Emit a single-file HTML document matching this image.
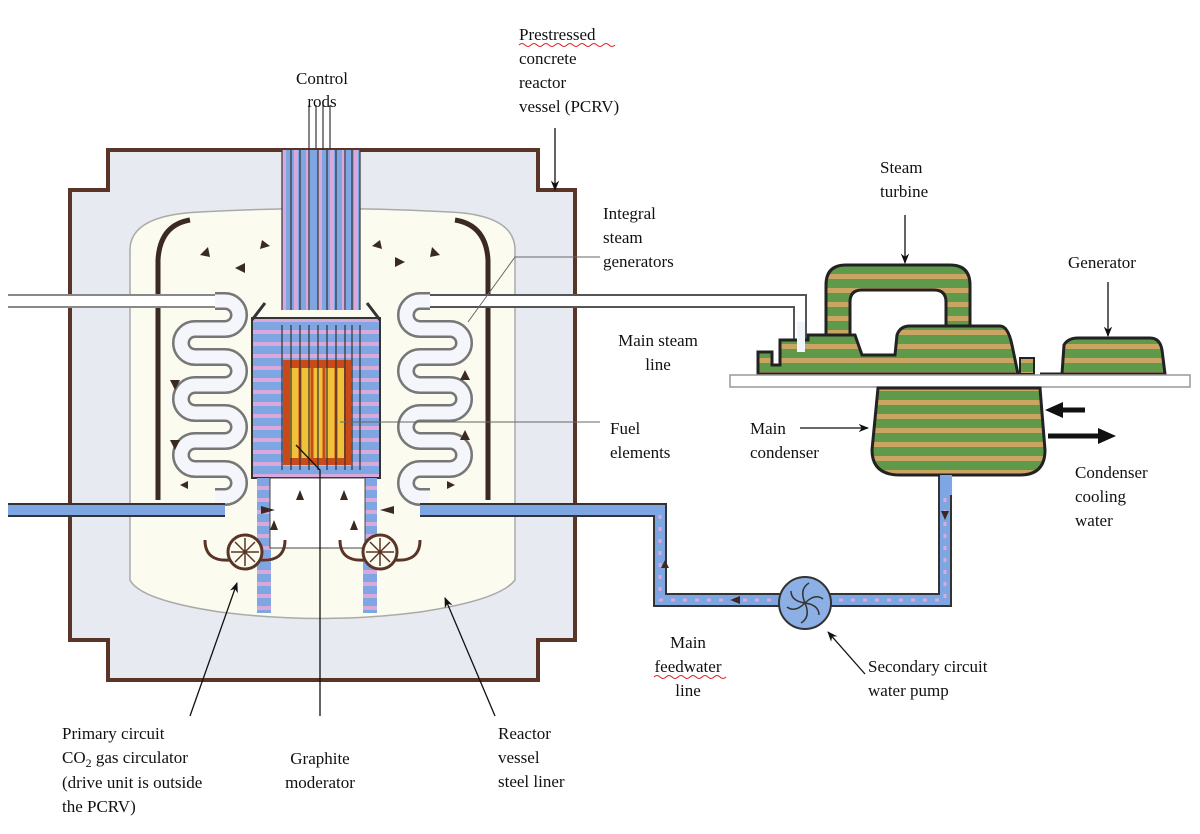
<!DOCTYPE html>
<html><head><meta charset="utf-8"><style>
html,body{margin:0;padding:0;background:#fff;}
svg{display:block}
text{font-family:"Liberation Serif",serif;font-size:17px;fill:#111}
</style></head><body>
<svg width="1200" height="834" viewBox="0 0 1200 834" xmlns="http://www.w3.org/2000/svg">
<defs>
<pattern id="gt" width="20" height="14" patternUnits="userSpaceOnUse"><rect width="20" height="14" fill="#5f9a4a"/><rect y="8" width="20" height="5" fill="#c9a462"/></pattern>
<pattern id="bp" width="20" height="12" patternUnits="userSpaceOnUse"><rect width="20" height="12" fill="#7ea6e2"/><rect y="6" width="20" height="4" fill="#d9a9dc"/></pattern>
<pattern id="bpv" width="12" height="20" patternUnits="userSpaceOnUse"><rect width="12" height="20" fill="#7ea6e2"/><rect x="6" width="4" height="20" fill="#d9a9dc"/></pattern>
<marker id="ah" viewBox="0 0 10 10" refX="9" refY="5" markerWidth="8" markerHeight="8" orient="auto"><path d="M0,1 L10,5 L0,9 L3,5z" fill="#111"/></marker>
</defs>

<path d="M108,150 H538 V190 H575 V640 H538 V680 H108 V640 H70 V190 H108 Z" fill="#e8eaf2" stroke="#5a3426" stroke-width="4"/>
<path d="M130,250 Q130,215 200,212 Q322,205 450,212 Q515,215 515,250 V580 Q500,600 420,612 Q322,625 220,612 Q140,600 130,580 Z" fill="#fbfbef" stroke="#aaa" stroke-width="1.5"/>

<rect x="252" y="318" width="128" height="160" fill="url(#bp)" stroke="#333" stroke-width="2"/>
<rect x="257" y="478" width="14" height="135" fill="url(#bp)"/>
<rect x="363" y="478" width="14" height="135" fill="url(#bp)"/>
<rect x="270" y="478" width="95" height="70" fill="#fff" stroke="#444" stroke-width="1"/>
<rect x="283" y="360" width="68" height="105" fill="#c84a1a"/>
<rect x="290" y="368" width="54" height="90" fill="#f0c23a"/>
<g stroke="#c84a1a" stroke-width="3"><line x1="300" y1="360" x2="300" y2="465"/><line x1="312" y1="360" x2="312" y2="465"/><line x1="324" y1="360" x2="324" y2="465"/><line x1="336" y1="360" x2="336" y2="465"/></g>
<rect x="282" y="150" width="78" height="160" fill="url(#bpv)"/>
<g stroke="#333" stroke-width="1.2" fill="none">
<path d="M282,150 V310 M291,150 V310 M300,150 V310 M309,150 V310 M318,150 V310 M327,150 V310 M336,150 V310 M345,150 V310 M352,150 V310 M360,150 V310"/>
<path d="M282,325 V470 M291,325 V470 M300,325 V470 M309,325 V470 M318,325 V470 M327,325 V470 M336,325 V470 M345,325 V470 M352,325 V470 M360,325 V470"/>
<path d="M309,105 V150 M316,105 V150 M323,105 V150 M330,105 V150"/>
</g>
<path d="M252,320 L265,303 M380,320 L367,303" stroke="#333" stroke-width="3"/>

<path d="M158,500 V260 Q160,225 190,220" stroke="#3a2a22" stroke-width="5" fill="none"/>
<path d="M488,500 V260 Q486,225 455,220" stroke="#3a2a22" stroke-width="5" fill="none"/>

<path d="M8,301 H220" stroke="#888" stroke-width="14" fill="none"/>
<path d="M8,301 H220" stroke="#fff" stroke-width="10" fill="none"/>
<path d="M420,301 H800 V345" stroke="#555" stroke-width="14" fill="none"/>
<path d="M420,301 H800 V345" stroke="#fff" stroke-width="10" fill="none"/>
<g fill="none">
<path id="sl" d="M215,301 H225 A14,14 0 0 1 225,329 H195 A14,14 0 0 0 195,357 H225 A14,14 0 0 1 225,385 H195 A14,14 0 0 0 195,413 H225 A14,14 0 0 1 225,441 H195 A14,14 0 0 0 195,469 H225 A14,14 0 0 1 225,497 H215" stroke="#777" stroke-width="18"/>
<path d="M215,301 H225 A14,14 0 0 1 225,329 H195 A14,14 0 0 0 195,357 H225 A14,14 0 0 1 225,385 H195 A14,14 0 0 0 195,413 H225 A14,14 0 0 1 225,441 H195 A14,14 0 0 0 195,469 H225 A14,14 0 0 1 225,497 H215" stroke="#f4f6fc" stroke-width="13"/>
<path d="M430,301 H420 A14,14 0 0 0 420,329 H450 A14,14 0 0 1 450,357 H420 A14,14 0 0 0 420,385 H450 A14,14 0 0 1 450,413 H420 A14,14 0 0 0 420,441 H450 A14,14 0 0 1 450,469 H420 A14,14 0 0 0 420,497 H430" stroke="#777" stroke-width="18"/>
<path d="M430,301 H420 A14,14 0 0 0 420,329 H450 A14,14 0 0 1 450,357 H420 A14,14 0 0 0 420,385 H450 A14,14 0 0 1 450,413 H420 A14,14 0 0 0 420,441 H450 A14,14 0 0 1 450,469 H420 A14,14 0 0 0 420,497 H430" stroke="#f4f6fc" stroke-width="13"/>
</g>
<path d="M8,510 H225 M420,510 H660 V600 H945 V470" stroke="#333" stroke-width="14" fill="none"/>
<path d="M8,510 H225 M420,510 H660 V600 H945 V470" stroke="#7ea6e2" stroke-width="10" fill="none"/>
<path d="M660,515 V600 H945 V470" stroke="#d9a9dc" stroke-width="3" stroke-dasharray="4,8" fill="none"/>

<g stroke="#5a3426" stroke-width="3" fill="none">
<path d="M205,540 Q205,562 230,560 M285,540 Q285,562 260,560"/>
<circle cx="245" cy="552" r="17" fill="#fbfbef"/>
<path d="M340,540 Q340,562 365,560 M420,540 Q420,562 395,560"/>
<circle cx="380" cy="552" r="17" fill="#fbfbef"/>
</g>
<g stroke="#5a3426" stroke-width="1.5"><path d="M245,538 V566 M231,552 H259 M235,542 L255,562 M255,542 L235,562"/><path d="M380,538 V566 M366,552 H394 M370,542 L390,562 M390,542 L370,562"/></g>

<g fill="#3a2a22">
<path d="M200,255 l8,-8 l2,10z M235,268 l10,-5 l0,10z M262,240 l8,6 l-10,3z M380,240 l-8,6 l10,3z M405,262 l-10,-5 l0,10z M440,255 l-8,-8 l-2,10z M170,380 l5,10 l5,-10z M170,440 l5,10 l5,-10z M460,380 l5,-10 l5,10z M460,440 l5,-10 l5,10z M296,500 l4,-10 l4,10z M340,500 l4,-10 l4,10z M350,530 l4,-10 l4,10z M270,530 l4,-10 l4,10z M180,485 l8,-4 l0,8z M455,485 l-8,-4 l0,8z"/>
<path d="M275,510 l-14,-4 v8z M380,510 l14,-4 v8z M945,520 l-4,-9 h8z M730,600 l10,-4 v8z M665,560 l-4,8 h8z"/>
</g>

<path d="M826,345 V285 Q826,265 846,265 H950 Q970,265 970,285 V335 H946 V302 Q946,290 934,290 H862 Q850,290 850,302 V340 Z" fill="url(#gt)" stroke="#222" stroke-width="3"/>
<path d="M758,374 V352 H772 V365 H780 V340 H808 V335 H855 L862,355 H895 L897,335 Q900,326 910,326 H1000 Q1008,326 1012,345 L1018,374 Z" fill="url(#gt)" stroke="#222" stroke-width="3"/>
<path d="M1040,374 H1062 L1064,345 Q1068,338 1078,338 H1150 Q1160,338 1162,350 L1165,374 Z" fill="url(#gt)" stroke="#222" stroke-width="3"/>
<rect x="1020" y="358" width="14" height="16" fill="url(#gt)" stroke="#222" stroke-width="2"/>
<rect x="797" y="322" width="8" height="30" fill="#f0f4fb"/>
<rect x="730" y="375" width="460" height="12" fill="#fff" stroke="#999" stroke-width="1.5"/>
<path d="M878,388 H1040 L1045,450 Q1045,475 1020,475 H900 Q872,475 872,450 Z" fill="url(#gt)" stroke="#222" stroke-width="3"/>
<rect x="940" y="475" width="12" height="20" fill="#7ea6e2"/>
<circle cx="805" cy="603" r="26" fill="#8cb0e6" stroke="#333" stroke-width="2"/>
<g stroke="#333" stroke-width="1.5" fill="none"><path d="M805,603 q-6,-14 4,-20 M805,603 q10,-10 18,-4 M805,603 q14,2 14,12 M805,603 q6,14 -4,20 M805,603 q-10,10 -18,4 M805,603 q-14,-2 -14,-12"/></g>

<path d="M1085,410 H1060" stroke="#111" stroke-width="5"/><path d="M1045,410 l18,-8 v16z" fill="#111"/>
<path d="M1048,436 H1100" stroke="#111" stroke-width="5"/><path d="M1116,436 l-18,-8 v16z" fill="#111"/>

<g stroke="#111" stroke-width="1.3" fill="none" marker-end="url(#ah)">
<line x1="555" y1="128" x2="555" y2="190"/>
<line x1="905" y1="215" x2="905" y2="263"/>
<line x1="1108" y1="282" x2="1108" y2="336"/>
<line x1="800" y1="428" x2="868" y2="428"/>
<line x1="865" y1="674" x2="828" y2="632"/>
<line x1="190" y1="716" x2="237" y2="583"/>
<line x1="495" y1="716" x2="445" y2="598"/>
</g>
<g stroke="#666" stroke-width="1" fill="none">
<path d="M600,257 H515 L468,322"/>
<path d="M600,422 H340"/>
</g>
<path d="M320,716 V470 L296,445" stroke="#111" stroke-width="1.3" fill="none"/>

<text x="322" y="84" text-anchor="middle">Control</text>
<text x="322" y="107" text-anchor="middle">rods</text>
<text x="519" y="40">Prestressed</text><text x="519" y="64">concrete</text><text x="519" y="88">reactor</text><text x="519" y="112">vessel (PCRV)</text>
<path d="M519,45 q3,-3 6,0 t6,0 t6,0 t6,0 t6,0 t6,0 t6,0 t6,0 t6,0 t6,0 t6,0 t6,0 t6,0 t6,0 t6,0 t6,0" stroke="#d22" stroke-width="1" fill="none"/>
<text x="880" y="173">Steam</text><text x="880" y="197">turbine</text>
<text x="603" y="219">Integral</text><text x="603" y="243">steam</text><text x="603" y="267">generators</text>
<text x="1068" y="268">Generator</text>
<text x="658" y="346" text-anchor="middle">Main steam</text><text x="658" y="370" text-anchor="middle">line</text>
<text x="750" y="434">Main</text><text x="750" y="458">condenser</text>
<text x="610" y="434">Fuel</text><text x="610" y="458">elements</text>
<text x="1075" y="478">Condenser</text><text x="1075" y="502">cooling</text><text x="1075" y="526">water</text>
<text x="688" y="648" text-anchor="middle">Main</text><text x="688" y="672" text-anchor="middle">feedwater</text><text x="688" y="696" text-anchor="middle">line</text>
<path d="M654,677 q3,-3 6,0 t6,0 t6,0 t6,0 t6,0 t6,0 t6,0 t6,0 t6,0 t6,0 t6,0 t6,0" stroke="#d22" stroke-width="1" fill="none"/>
<text x="868" y="672">Secondary circuit</text><text x="868" y="696">water pump</text>
<text x="62" y="739">Primary circuit</text>
<text x="62" y="763">CO<tspan font-size="12" dy="4">2</tspan><tspan dy="-4"> gas circulator</tspan></text>
<text x="62" y="788">(drive unit is outside</text><text x="62" y="812">the PCRV)</text>
<text x="320" y="764" text-anchor="middle">Graphite</text><text x="320" y="788" text-anchor="middle">moderator</text>
<text x="498" y="739">Reactor</text><text x="498" y="763">vessel</text><text x="498" y="787">steel liner</text>
</svg>
</body></html>
